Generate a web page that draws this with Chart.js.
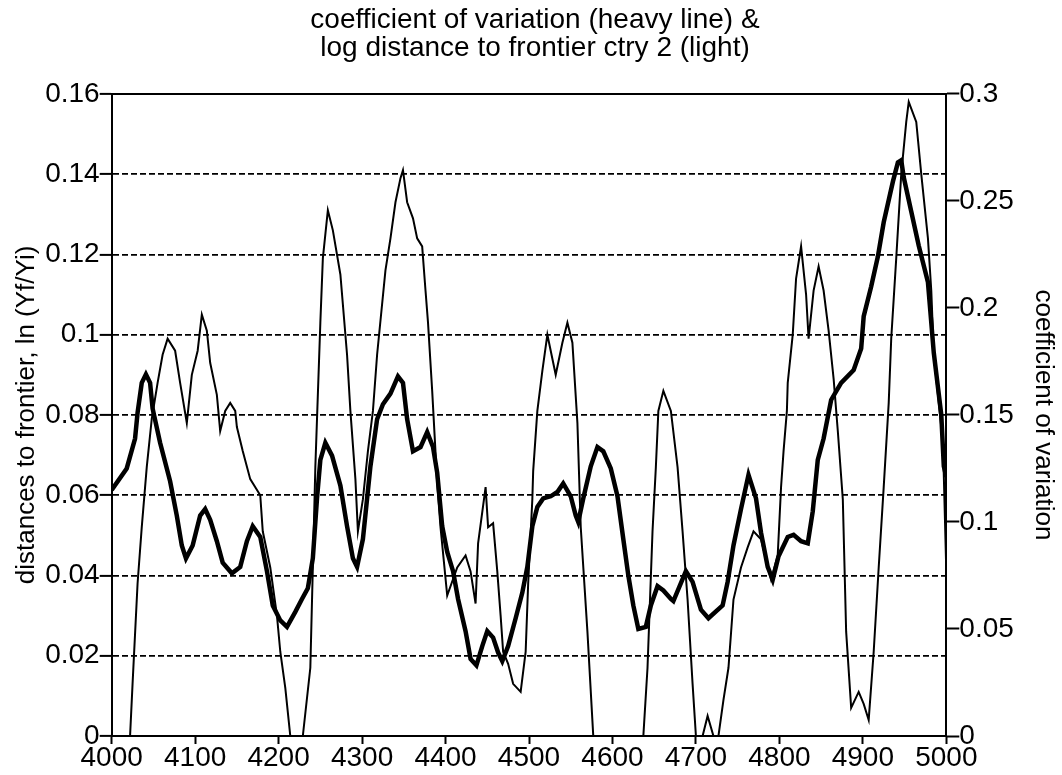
<!DOCTYPE html>
<html>
<head>
<meta charset="utf-8">
<script src="https://cdn.jsdelivr.net/npm/chart.js@4/dist/chart.umd.min.js"></script>
<style>
  body { margin: 0; background: #fff; }
</style>
</head>
<body>
<canvas id="cvChart" width="1062" height="775"></canvas>
<script>
// coefficient of variation (heavy line, right axis)
const heavyX = [4000,4018,4028,4031,4036,4041,4046,4049,4058,4070,
  4078,4084,4089,4097,4106,4112,4118,4126,4133,4144,
  4154,4162,4169,4178,4186,4193,4202,4210,4220,4228,
  4235,4241,4246,4250,4256,4264,4274,4282,4289,4294,
  4301,4310,4318,4325,4334,4343,4349,4354,4361,4370,
  4378,4385,4390,4396,4402,4409,4415,4424,4430,4437,
  4444,4450,4457,4463,4468,4475,4484,4492,4498,4504,
  4510,4517,4526,4534,4541,4550,4556,4559,4565,4574,
  4582,4589,4598,4606,4613,4619,4625,4631,4640,4646,
  4654,4661,4670,4673,4688,4696,4706,4715,4732,4738,
  4745,4754,4763,4772,4778,4786,4792,4799,4810,4817,
  4826,4834,4840,4846,4853,4862,4874,4889,4898,4901,
  4910,4918,4925,4936,4942,4946,4949,4958,4967,4978,
  4985,4994,4997,5000];
const heavyY = [0.115,0.125,0.139,0.151,0.165,0.169,0.165,0.153,0.137,0.119,
  0.103,0.089,0.083,0.089,0.103,0.106,0.101,0.091,0.081,0.076,
  0.079,0.091,0.098,0.093,0.077,0.061,0.054,0.051,0.058,0.064,
  0.069,0.083,0.111,0.129,0.137,0.131,0.117,0.098,0.083,0.079,
  0.092,0.126,0.148,0.155,0.160,0.168,0.165,0.148,0.133,0.135,
  0.142,0.135,0.123,0.098,0.086,0.077,0.064,0.049,0.036,0.033,
  0.042,0.049,0.046,0.039,0.035,0.042,0.055,0.067,0.079,0.098,
  0.107,0.111,0.112,0.114,0.118,0.112,0.103,0.100,0.111,0.126,
  0.135,0.133,0.125,0.112,0.092,0.075,0.061,0.050,0.051,0.061,
  0.070,0.068,0.064,0.063,0.077,0.072,0.059,0.055,0.061,0.072,
  0.089,0.106,0.122,0.111,0.095,0.079,0.073,0.084,0.093,0.094,
  0.091,0.090,0.105,0.129,0.139,0.157,0.165,0.171,0.181,0.196,
  0.210,0.224,0.240,0.259,0.268,0.269,0.261,0.245,0.229,0.212,
  0.179,0.150,0.126,0.121];

// log distance to frontier, country 2 (light line, left axis)
const lightX = [4000,4022,4025,4031,4036,4042,4048,4055,4061,4067,
  4076,4082,4090,4096,4103,4108,4114,4118,4126,4130,
  4136,4142,4148,4150,4157,4166,4178,4181,4190,4198,
  4202,4208,4214,4229,4238,4241,4244,4250,4253,4259,
  4265,4274,4282,4286,4292,4295,4301,4307,4313,4318,
  4328,4334,4340,4346,4349,4354,4361,4366,4372,4376,
  4379,4384,4390,4394,4402,4414,4424,4430,4436,4439,
  4448,4451,4457,4462,4466,4469,4475,4481,4490,4496,
  4499,4504,4505,4510,4516,4522,4532,4540,4546,4552,
  4558,4562,4570,4577,4637,4642,4648,4652,4655,4661,
  4670,4678,4684,4690,4696,4700,4708,4714,4721,4727,
  4733,4739,4745,4754,4762,4769,4778,4784,4790,4798,
  4802,4805,4809,4810,4816,4820,4826,4832,4835,4841,
  4847,4853,4859,4865,4870,4876,4880,4886,4895,4901,
  4907,4913,4919,4925,4931,4934,4940,4946,4952,4955,
  4964,4970,4978,4982,4985,4996,5000];
const lightY = [0,0,0.013,0.038,0.052,0.067,0.079,0.088,0.095,0.099,
  0.096,0.088,0.078,0.090,0.096,0.105,0.101,0.093,0.085,0.076,
  0.081,0.083,0.081,0.077,0.071,0.064,0.060,0.051,0.042,0.030,
  0.021,0.012,0,0,0.017,0.042,0.067,0.103,0.119,0.131,
  0.126,0.115,0.095,0.081,0.064,0.051,0.059,0.071,0.081,0.095,
  0.116,0.124,0.133,0.139,0.141,0.133,0.129,0.124,0.122,0.111,
  0.103,0.086,0.063,0.052,0.035,0.042,0.045,0.041,0.033,0.048,
  0.062,0.052,0.053,0.041,0.030,0.021,0.018,0.013,0.011,0.021,
  0.038,0.059,0.066,0.081,0.091,0.100,0.090,0.098,0.103,0.098,
  0.078,0.052,0.026,0,0,0.017,0.051,0.067,0.081,0.086,
  0.081,0.067,0.051,0.034,0.013,0,0,0.005,0,0,
  0.009,0.017,0.034,0.042,0.047,0.051,0.049,0.044,0.039,0.045,
  0.062,0.071,0.081,0.088,0.100,0.114,0.122,0.110,0.099,0.111,
  0.117,0.111,0.101,0.089,0.076,0.059,0.026,0.007,0.011,0.008,
  0.004,0.021,0.042,0.062,0.083,0.099,0.119,0.140,0.153,0.158,
  0.153,0.140,0.124,0.111,0.095,0.073,0.041];

const xTicks = [4000, 4100, 4200, 4300, 4400, 4500, 4600, 4700, 4800, 4900, 5000];
const leftTicks = [0, 0.02, 0.04, 0.06, 0.08, 0.1, 0.12, 0.14, 0.16];
const rightTicks = [0, 0.05, 0.1, 0.15, 0.2, 0.25, 0.3];

const FONT = "'Liberation Sans', Arial, Helvetica, sans-serif";
Chart.defaults.font.family = FONT;
Chart.defaults.color = '#000';

const pts = (xs, ys) => xs.map((x, i) => ({ x: x, y: ys[i] }));
const fmt = v => String(parseFloat(Number(v).toFixed(3)));

const ctx = document.getElementById('cvChart').getContext('2d');
new Chart(ctx, {
    type: 'line',
    data: {
        datasets: [{
            label: 'coefficient of variation',
            data: pts(heavyX, heavyY),
            yAxisID: 'y2',
            borderColor: '#000',
            borderWidth: 4.5,
            pointRadius: 0,
            tension: 0
        }, {
            label: 'log distance to frontier ctry 2',
            data: pts(lightX, lightY),
            yAxisID: 'y',
            borderColor: '#000',
            borderWidth: 2,
            pointRadius: 0,
            tension: 0
        }]
    },
    options: {
        responsive: false,
        animation: false,
        layout: { padding: { left: 8, right: 0, top: 0, bottom: 3 } },
        plugins: {
            legend: { display: false },
            tooltip: { enabled: false },
            title: {
                display: true,
                text: ['coefficient of variation (heavy line) &', 'log distance to frontier ctry 2 (light)'],
                color: '#000',
                font: { size: 28, weight: 'normal', lineHeight: 0.98 },
                padding: { top: 7, bottom: 32 }
            }
        },
        scales: {
            x: {
                type: 'linear',
                min: 4000,
                max: 5000,
                afterBuildTicks: s => { s.ticks = xTicks.map(v => ({ value: v })); },
                ticks: { font: { size: 28, lineHeight: 1.0 }, padding: 0, maxRotation: 0, autoSkip: false, callback: v => String(v) },
                grid: { drawOnChartArea: false, drawTicks: true, tickLength: 8, tickColor: '#000', tickWidth: 2 },
                border: { display: true, color: '#000', width: 2 }
            },
            xTop: {
                type: 'linear',
                position: 'top',
                min: 4000,
                max: 5000,
                ticks: { display: false },
                grid: { drawOnChartArea: false, drawTicks: false },
                border: { display: true, color: '#000', width: 2 }
            },
            y: {
                position: 'left',
                min: 0,
                max: 0.16,
                afterBuildTicks: s => { s.ticks = leftTicks.map(v => ({ value: v })); },
                ticks: { font: { size: 28, lineHeight: 1.0 }, padding: 0, callback: fmt },
                grid: {
                    drawOnChartArea: true,
                    color: c => (c.index === 0 || c.index === leftTicks.length - 1) ? 'rgba(0,0,0,0)' : '#000',
                    lineWidth: 1.8,
                    tickLength: 12,
                    tickColor: '#000',
                    tickWidth: 2,
                    tickBorderDash: []
                },
                border: { display: true, color: '#000', width: 2, dash: [6, 3] },
                title: {
                    display: true,
                    text: 'distances to frontier, ln (Yf/Yi)',
                    font: { size: 26 },
                    padding: { top: 3, bottom: 3 }
                }
            },
            y2: {
                position: 'right',
                min: 0,
                max: 0.3,
                afterBuildTicks: s => { s.ticks = rightTicks.map(v => ({ value: v })); },
                ticks: { font: { size: 28, lineHeight: 1.0 }, padding: 0, callback: fmt },
                grid: { drawOnChartArea: false, drawTicks: true, tickLength: 13, tickColor: '#000', tickWidth: 2 },
                border: { display: true, color: '#000', width: 2 },
                title: {
                    display: true,
                    text: 'coefficient of variation',
                    font: { size: 26 },
                    padding: { top: 3, bottom: 14 }
                }
            }
        }
    }
});
</script>
</body>
</html>
